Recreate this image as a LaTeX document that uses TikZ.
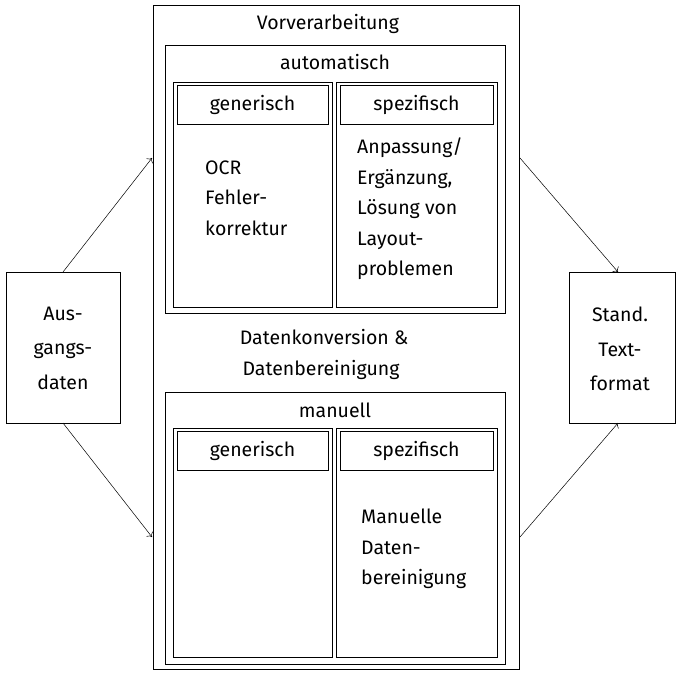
\documentclass[tikz,border=0pt]{standalone}
\usepackage{fontspec}
\setmainfont{Fira Sans}
\usetikzlibrary{calc,arrows.meta}
\begin{document}
\begin{tikzpicture}[x=1pt,y=-1pt,
  box/.style={draw, line width=0.6pt, inner sep=0pt, outer sep=0pt, anchor=north west},
  lbl/.style={inner sep=0pt, font=\fontsize{19.5}{22}\selectfont},
  body/.style={inner sep=0pt, align=left, anchor=west, font=\fontsize{19.5}{30.5}\selectfont},
  side/.style={inner sep=0pt, align=center, font=\fontsize{19.5}{34.5}\selectfont},
  arr/.style={-{To[length=4pt,width=8pt]}, line width=0.5pt}]
\useasboundingbox (0,0) rectangle (676,672);
% outer
\node[box, minimum width=366pt, minimum height=664pt] (outer) at (153,5) {};
\node[lbl] (vor) at (328,24) {Vorverarbeitung};
% automatisch
\node[box, minimum width=340pt, minimum height=268pt] (auto) at (165,45) {};
\node[lbl] (autot) at (335,62) {automatisch};
\node[box, minimum width=159pt, minimum height=225pt] (gacol) at (173,82) {};
\node[box, minimum width=151pt, minimum height=39pt] (gahead) at (177,85) {};
\node[lbl] (gatext) at (gahead.center) {generisch};
\node[box, minimum width=161pt, minimum height=225pt] (sacol) at (336,82) {};
\node[box, minimum width=153pt, minimum height=39pt] (sahead) at (340,85) {};
\node[lbl] (satext) at (sahead.center) {spezifisch};
\node[body] (ocr) at (205,198) {OCR\\Fehler-\\korrektur};
\node[body] (anp) at (357,209) {Anpassung/\\Ergänzung,\\Lösung von\\Layout-\\problemen};
% middle label
\node[lbl] (dk) at (324,337) {Datenkonversion \&};
\node[lbl] (db) at (321,370) {Datenbereinigung};
% manuell
\node[box, minimum width=340pt, minimum height=272pt] (man) at (165,392) {};
\node[lbl] (mant) at (335,410) {manuell};
\node[box, minimum width=159pt, minimum height=229pt] (gmcol) at (173,428) {};
\node[box, minimum width=151pt, minimum height=39pt] (gmhead) at (177,431) {};
\node[lbl] (gmtext) at (gmhead.center) {generisch};
\node[box, minimum width=161pt, minimum height=229pt] (smcol) at (336,428) {};
\node[box, minimum width=153pt, minimum height=39pt] (smhead) at (340,431) {};
\node[lbl] (smtext) at (smhead.center) {spezifisch};
\node[body] (mdb) at (361,549) {Manuelle\\Daten-\\bereinigung};
% side boxes
\node[box, minimum width=114pt, minimum height=151pt] (aus) at (6,272) {};
\node[side] (aust) at (63,348) {Aus-\\gangs-\\daten};
\node[box, minimum width=106pt, minimum height=151pt] (std) at (569,272) {};
\node[side] (stdt) at (620,349) {Stand.\\Text-\\format};
% arrow ends
\coordinate (inTop) at (152,158);
\coordinate (inBot) at (152,537);
\coordinate (outTop) at (520,158);
\coordinate (outBot) at (520,537);
\coordinate (stdTop) at (618,272);
\coordinate (stdBot) at (618,423);
\draw[arr] (aus.north) -- (inTop);
\draw[arr] (aus.south) -- (inBot);
\draw[arr] (outTop) -- (stdTop);
\draw[arr] (outBot) -- (stdBot);
\end{tikzpicture}
\end{document}
